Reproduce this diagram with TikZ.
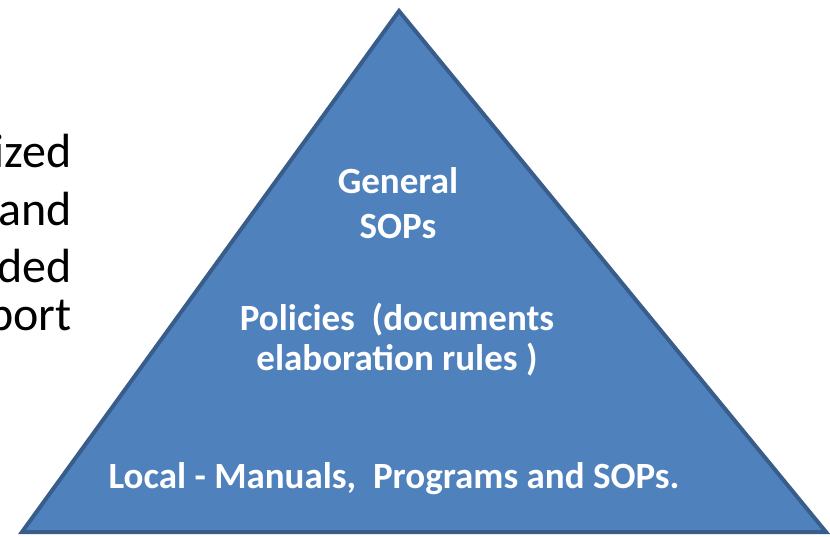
\documentclass[tikz,border=0pt]{standalone}
\usepackage{fontspec}
\setmainfont{Carlito}
\definecolor{triFill}{HTML}{4F81BD}
\definecolor{triLine}{HTML}{385D8A}
\begin{document}
\begin{tikzpicture}[x=1pt,y=-1pt,
  sidetext/.style={anchor=base east,inner sep=0pt,font=\fontsize{48}{56}\selectfont},
  tritext/.style={anchor=base,inner sep=0pt,text=white,font=\fontsize{37}{44}\selectfont\bfseries}]
\useasboundingbox (0,0) rectangle (830,536);
\begin{scope}
\clip (0,0) rectangle (830,536);
\node[sidetext] (s1) at (72,167) {ized};
\node[sidetext] (s2) at (72,225) {and};
\node[sidetext] (s3) at (72,282) {ded};
\node[sidetext] (s4) at (72,330) {port};
\draw[fill=triFill,draw=triLine,line width=4pt,line join=miter] (399,11) -- (22,532) -- (826,532) -- cycle;
\end{scope}
\node[tritext] (g1) at (398,193) {General};
\node[tritext] (g2) at (398,238) {SOPs};
\node[tritext] (p1) at (397,330) {Policies\ \ (documents};
\node[tritext] (p2) at (397,370) {elaboration rules )};
\node[tritext] (l1) at (394,488) {Local - Manuals,\ \ Programs and SOPs.};
\end{tikzpicture}
\end{document}
